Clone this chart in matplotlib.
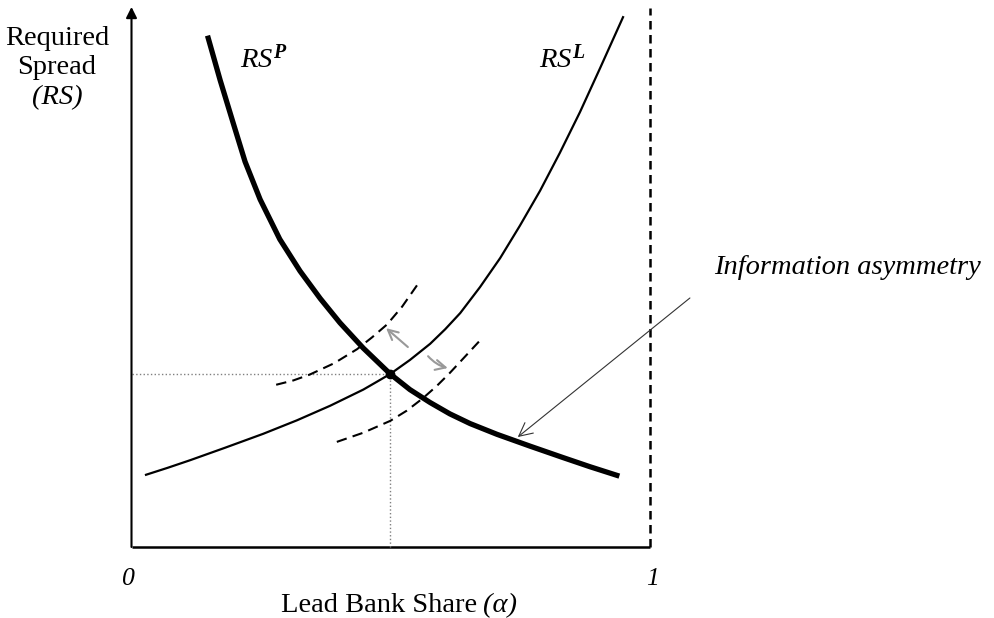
import matplotlib
matplotlib.use("Agg")
import matplotlib.pyplot as plt

plt.rcParams['font.family'] = ['Liberation Serif', 'DejaVu Serif']
plt.rcParams['mathtext.fontset'] = 'custom'
plt.rcParams['mathtext.rm'] = 'Liberation Serif'
plt.rcParams['mathtext.it'] = 'Liberation Serif:italic'
plt.rcParams['mathtext.bf'] = 'Liberation Serif:bold:italic'

# lead bank share (alpha) and required spread values
rsp_x = [0.148, 0.171, 0.196, 0.219, 0.248, 0.286, 0.325, 0.364, 0.402, 0.447,
         0.499, 0.537, 0.576, 0.614, 0.653, 0.705, 0.769, 0.832, 0.884, 0.936]
rsp_y = [9.44, 8.66, 7.87, 7.15, 6.45, 5.71, 5.12, 4.61, 4.16, 3.69,
         3.21, 2.92, 2.68, 2.47, 2.29, 2.09, 1.87, 1.66, 1.49, 1.33]

rsl_x = [0.028, 0.070, 0.113, 0.180, 0.254, 0.319, 0.383, 0.447, 0.474, 0.499, 0.537, 0.576,
         0.605, 0.634, 0.672, 0.711, 0.749, 0.788, 0.826, 0.865, 0.904, 0.948]
rsl_y = [1.34, 1.47, 1.61, 1.84, 2.10, 2.35, 2.62, 2.92, 3.07, 3.21, 3.47, 3.77,
         4.04, 4.34, 4.82, 5.36, 5.96, 6.61, 7.31, 8.07, 8.89, 9.83]

# shifted RS^L curves (dashed)
up_x = [0.279, 0.312, 0.344, 0.391, 0.435, 0.464, 0.493, 0.522, 0.551]
up_y = [3.01, 3.09, 3.20, 3.41, 3.67, 3.89, 4.13, 4.46, 4.86]
down_x = [0.396, 0.447, 0.499, 0.531, 0.562, 0.589, 0.614, 0.643, 0.670]
down_y = [1.95, 2.12, 2.34, 2.53, 2.76, 2.99, 3.23, 3.53, 3.81]

eq_x, eq_y = 0.499, 3.21

fig = plt.figure(figsize=(9.94, 6.18), dpi=100)
ax = fig.add_axes([131.5 / 994, 71 / 618, 518.5 / 994, 539 / 618])
ax.set_xlim(0, 1)
ax.set_ylim(0, 10)
ax.axis('off')

# axes
ax.plot([0, 1], [0, 0], color='black', lw=1.8, clip_on=False, solid_capstyle='butt')
ax.annotate('', xy=(0, 10.02), xytext=(0, 0), annotation_clip=False,
            arrowprops=dict(arrowstyle='-|>', color='black', lw=1.5, mutation_scale=16,
                            shrinkA=0, shrinkB=0))
ax.plot([1, 1], [0, 10], color='black', lw=1.8, ls=(0, (3.4, 2.2)), clip_on=False)

# dotted guides to the equilibrium
ax.plot([0, eq_x], [eq_y, eq_y], color='gray', lw=1, ls=':', clip_on=False)
ax.plot([eq_x, eq_x], [0, eq_y], color='gray', lw=1, ls=':', clip_on=False)

# curves
ax.plot(rsl_x, rsl_y, color='black', lw=1.6, clip_on=False, solid_joinstyle='round')
ax.plot(up_x, up_y, color='black', lw=1.5, ls=(0, (5, 3)), clip_on=False)
ax.plot(down_x, down_y, color='black', lw=1.5, ls=(0, (5, 3)), clip_on=False)
ax.plot(rsp_x, rsp_y, color='black', lw=3.8, clip_on=False, solid_joinstyle='round')
ax.plot([eq_x], [eq_y], 'o', color='black', ms=6, clip_on=False)

# grey shift arrows
ax.annotate('', xy=(0.491, 4.06), xytext=(0.533, 3.71),
            arrowprops=dict(arrowstyle='->', color='#999999', lw=1.5, mutation_scale=18,
                            shrinkA=0, shrinkB=0))
ax.annotate('', xy=(0.610, 3.32), xytext=(0.572, 3.54),
            arrowprops=dict(arrowstyle='->', color='#999999', lw=1.5, mutation_scale=18,
                            shrinkA=0, shrinkB=0, connectionstyle='arc3,rad=0.15'))

# information asymmetry annotation
ax.annotate('', xy=(0.745, 2.04), xytext=(1.077, 4.62), annotation_clip=False,
            arrowprops=dict(arrowstyle='->', color='#333333', lw=0.8, mutation_scale=24,
                            shrinkA=0, shrinkB=0))
ax.text(1.123, 5.18, 'Information asymmetry', fontsize=20.5, style='italic',
        ha='left', va='center')

# curve labels
ax.text(0.209, 9.04, r'$RS^{\mathbf{P}}$', fontsize=20.5, ha='left', va='center')
ax.text(0.786, 9.04, r'$RS^{\mathbf{L}}$', fontsize=20.5, ha='left', va='center')

# axis labels
ax.text(-0.144, 9.44, 'Required', fontsize=20.5, ha='center', va='center')
ax.text(-0.144, 8.89, 'Spread', fontsize=20.5, ha='center', va='center')
ax.text(-0.144, 8.33, '(RS)', fontsize=20.5, style='italic', ha='center', va='center')
ax.text(-0.005, -0.59, '0', fontsize=18.5, style='italic', ha='center', va='center')
ax.text(1.004, -0.59, '1', fontsize=18.5, style='italic', ha='center', va='center')
ax.text(0.6663, -1.205, 'Lead Bank Share', fontsize=20.5, ha='right', va='baseline')
ax.text(0.6779, -1.205, '(α)', fontsize=20.5, style='italic', ha='left', va='baseline')

fig.savefig('out.png', dpi=100)
